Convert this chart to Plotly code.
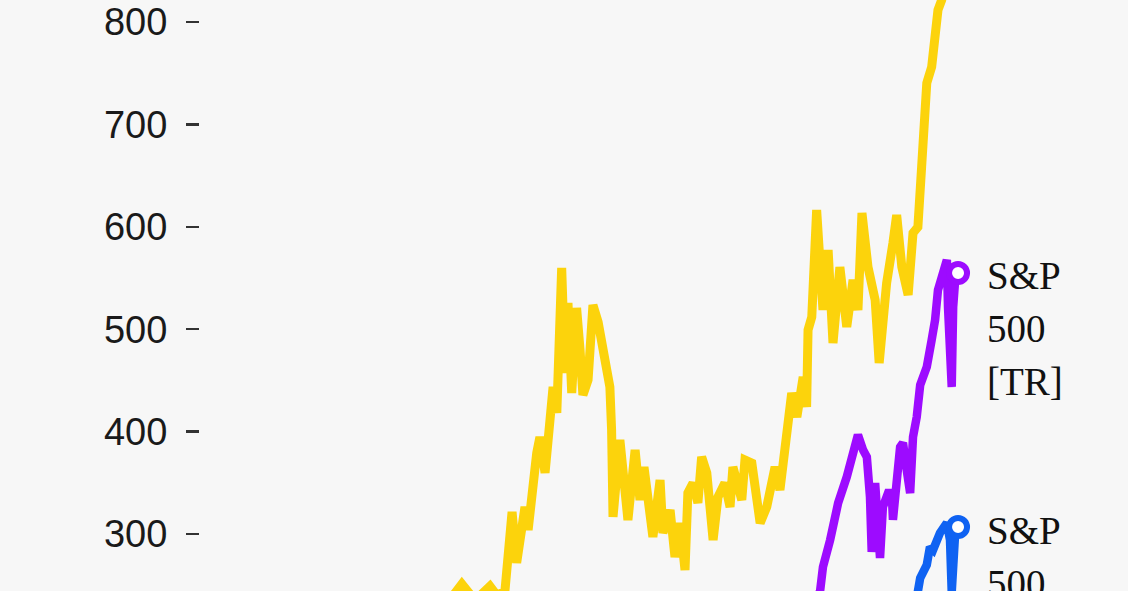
import plotly.graph_objects as go

# ---- data (decimal years, index values) ----
gold_t = [1999.1, 2001.2, 2003.0, 2005.0, 2006.4, 2007.0, 2007.9,
          2008.20, 2008.66, 2009.18, 2009.42, 2009.70, 2009.95, 2010.11, 2010.40, 2010.51,
          2010.81, 2010.92, 2011.10, 2011.20, 2011.38, 2011.51, 2011.62, 2011.68, 2011.80,
          2011.90, 2012.03, 2012.20, 2012.32, 2012.42, 2012.60, 2012.77, 2012.95, 2013.12,
          2013.25, 2013.36, 2013.42, 2013.47, 2013.71, 2013.89, 2013.99, 2014.24, 2014.41,
          2014.55, 2014.86, 2015.11, 2015.21, 2015.46, 2015.63, 2015.81, 2015.98, 2016.08,
          2016.26, 2016.43, 2016.56, 2016.74, 2016.96, 2017.13, 2017.37, 2017.55, 2017.65,
          2017.96, 2018.07, 2018.31, 2018.60, 2018.83, 2019.12, 2019.29, 2019.53, 2019.70,
          2019.88, 2020.10, 2020.22, 2020.27, 2020.40, 2020.57, 2020.79, 2020.97, 2021.14,
          2021.38, 2021.62, 2021.84, 2022.01, 2022.15, 2022.36, 2022.61, 2022.75, 2023.01,
          2023.23, 2023.36, 2023.54, 2023.76, 2023.93, 2024.10, 2024.23, 2024.28, 2024.41,
          2024.58, 2024.70, 2024.80, 2024.93, 2025.10, 2025.30, 2025.50]
gold_v = [80, 75, 105, 130, 200, 195, 240,
          251, 235, 249, 240, 244, 321.5, 271.7, 326.4, 303.9,
          379.1, 394.7, 359.6, 398.6, 443.6, 418.2, 489.5, 559.8, 457.2,
          525.6, 437.7, 520.7, 479.7, 435.7, 450.4, 523.6, 507.0, 482.6,
          460.2, 443.6, 401.6, 316.6, 391.8, 349.8, 313.7, 382.0, 333.2,
          365.4, 297.1, 352.7, 301.0, 323.4, 277.5, 310.7, 264.8, 340.0,
          349.8, 330.3, 375.2, 359.6, 294.1, 336.1, 349.8, 326.4, 365.4,
          333.2, 372.3, 369.3, 310.7, 326.4, 365.4, 343.0, 391.8, 437.7,
          414.3, 453.3, 424.0, 499.2, 511.9, 616.4, 518.8, 577.3, 486.5,
          560.7, 502.2, 548.1, 518.8, 613.5, 560.7, 528.5, 467.0, 545.1,
          584.2, 611.5, 560.7, 533.4, 594.0, 599.8, 658.4, 691.6, 740.4,
          756.1, 792.2, 811.7, 821.5, 870, 950, 980]

sptr_t = [1999.1, 2000.6, 2002.8, 2007.8, 2009.2, 2013.0, 2018.0, 2020.0, 2020.2, 2020.55,
          2020.69, 2020.79, 2021.04, 2021.32, 2021.62, 2021.84, 2022.01, 2022.19, 2022.32,
          2022.43, 2022.49, 2022.61, 2022.78, 2022.88, 2023.06, 2023.19, 2023.23, 2023.48,
          2023.58, 2023.71, 2023.83, 2023.93, 2024.06, 2024.18, 2024.41, 2024.58, 2024.70,
          2024.80, 2024.93, 2025.11, 2025.15, 2025.22, 2025.28, 2025.33, 2025.40, 2025.50]
sptr_v = [100, 110, 60, 110, 45, 100, 190, 235, 170, 235,
          244.3, 267.8, 294.1, 330.3, 355.7, 382.0, 396.7, 382.0, 375.2,
          336.1, 282.4, 349.8, 276.6, 326.4, 340.0, 340.0, 313.7, 385.0,
          389.0, 362.5, 340.0, 394.7, 414.3, 445.5, 463.1, 489.5, 509.0,
          538.3, 548.1, 567.6, 521.7, 489.5, 443.6, 521.7, 548.1, 554.9]

spx_t = [1999.1, 2000.6, 2002.8, 2007.8, 2009.2, 2013.0, 2018.0, 2020.2, 2021.0, 2022.0,
         2022.8, 2023.5, 2023.8, 2024.10, 2024.18, 2024.41, 2024.52, 2024.63, 2024.87,
         2025.11, 2025.22, 2025.28, 2025.34, 2025.40, 2025.50]
spx_v = [100, 105, 55, 95, 45, 75, 130, 110, 175, 220,
         170, 210, 195, 240.4, 257.0, 269.7, 287.3, 284.4, 301.0,
         310.7, 294.1, 243.4, 294.1, 301.0, 306.8]

y_ticks = [300, 400, 500, 600, 700, 800]
labels_tr = ["S&P", "500", "[TR]"]
labels_px = ["S&P", "500"]

GOLD = "#fcd30c"
PURPLE = "#9d0bff"
BLUE = "#0f62f2"
BG = "#f7f7f7"

fig = go.Figure()
fig.add_trace(go.Scatter(x=gold_t, y=gold_v, mode="lines",
                         line=dict(color=GOLD, width=9), hoverinfo="skip"))
fig.add_trace(go.Scatter(x=sptr_t, y=sptr_v, mode="lines",
                         line=dict(color=PURPLE, width=8.5), hoverinfo="skip"))
fig.add_trace(go.Scatter(x=spx_t, y=spx_v, mode="lines",
                         line=dict(color=BLUE, width=8.5), hoverinfo="skip"))

for t, v, col in [(sptr_t[-1], sptr_v[-1], PURPLE), (spx_t[-1], spx_v[-1], BLUE)]:
    fig.add_trace(go.Scatter(x=[t], y=[v], mode="markers", cliponaxis=False,
                             marker=dict(size=18, color="white",
                                         line=dict(color=col, width=6)),
                             hoverinfo="skip"))

def add_label(t, v, lines):
    for i, txt in enumerate(lines):
        fig.add_annotation(x=t, y=v, text=txt, showarrow=False,
                           xanchor="left", yanchor="middle",
                           xshift=27, yshift=-3 - 53 * i,
                           font=dict(family="Liberation Serif", size=39, color="#111"))

add_label(sptr_t[-1], sptr_v[-1], labels_tr)
add_label(spx_t[-1], spx_v[-1], labels_px)

fig.update_layout(
    width=1128, height=591,
    margin=dict(l=200, r=0, t=0, b=0),
    paper_bgcolor=BG, plot_bgcolor=BG,
    showlegend=False,
    hovermode=False,
    xaxis=dict(range=[1999.069, 2031.426], visible=False, showgrid=False),
    yaxis=dict(range=[244.3, 821.5], tickvals=y_ticks,
               ticktext=[str(v) for v in y_ticks],
               ticks="outside", ticklen=13, tickwidth=2.5, tickcolor="#333",
               ticklabelstandoff=11,
               showgrid=False, zeroline=False, showline=False,
               tickfont=dict(family="Liberation Sans", size=38, color="#1a1a1a")),
)

fig.write_html("out.html",
               config={"displayModeBar": False, "staticPlot": True},
               post_script="document.body.style.margin='0';"
                           "document.body.style.background='#f7f7f7';")
